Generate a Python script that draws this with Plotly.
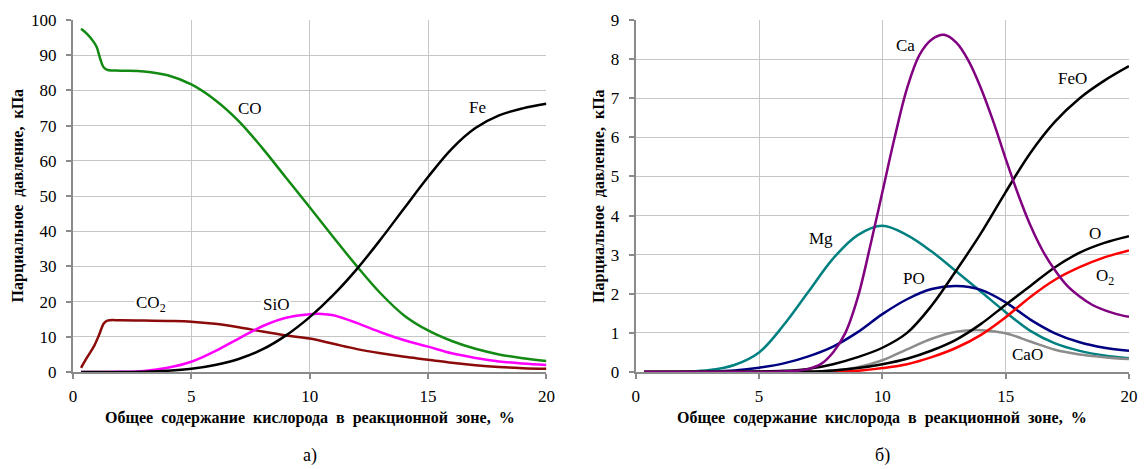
import plotly.graph_objects as go

# ---------- panel a) ----------
co_x = [0.34, 0.6, 0.85, 1.0, 1.15, 1.3, 1.47, 2, 3, 4, 5, 6, 7, 8, 9, 10, 11, 12, 13, 14, 15, 16, 17, 18, 19, 20]
co_y = [97.5, 96.0, 94.0, 92.3, 89.0, 86.5, 85.8, 85.6, 85.4, 84.3, 81.7, 77.3, 71.3, 63.6, 55.2, 46.8, 38.3, 30.0, 22.3, 16.0, 11.8, 8.8, 6.6, 5.0, 3.9, 3.1]

co2_x = [0.34, 0.6, 0.9, 1.1, 1.3, 1.45, 2, 3, 4, 5, 6, 7, 8, 9, 10, 11, 12, 13, 14, 15, 16, 17, 18, 19, 20]
co2_y = [1.2, 4.2, 7.5, 10.5, 13.8, 14.6, 14.7, 14.6, 14.5, 14.3, 13.7, 12.7, 11.5, 10.4, 9.5, 8.0, 6.5, 5.3, 4.3, 3.5, 2.6, 1.9, 1.4, 1.1, 0.9]

sio_x = [0.34, 2, 3, 4, 5, 6, 7, 8, 9, 10, 10.5, 11, 12, 13, 14, 15, 16, 17, 18, 19, 20]
sio_y = [0.0, 0.05, 0.3, 1.2, 2.9, 5.9, 9.5, 13.0, 15.4, 16.4, 16.5, 16.1, 13.9, 11.3, 9.0, 7.2, 5.3, 4.0, 3.0, 2.4, 2.0]

fe_x = [0.34, 2, 3, 4, 5, 6, 7, 8, 9, 10, 11, 12, 13, 14, 15, 16, 17, 18, 19, 20]
fe_y = [0.0, 0.02, 0.1, 0.35, 0.9, 2.0, 3.7, 6.4, 10.4, 15.6, 21.9, 29.3, 37.7, 46.6, 55.4, 63.4, 69.3, 72.9, 74.9, 76.2]

# ---------- panel б) ----------
b_x = [0.34, 2, 3, 4, 5, 6, 7, 8, 9, 10, 11, 12, 13, 14, 15, 16, 17, 18, 19, 20]
mg_y = [0.0, 0.01, 0.05, 0.18, 0.5, 1.2, 2.05, 2.9, 3.5, 3.74, 3.5, 3.08, 2.57, 2.05, 1.53, 1.05, 0.73, 0.54, 0.42, 0.35]
po_y = [0.0, 0.0, 0.01, 0.04, 0.11, 0.22, 0.4, 0.65, 1.02, 1.48, 1.86, 2.12, 2.2, 2.1, 1.78, 1.34, 0.99, 0.76, 0.62, 0.54]
feo_y = [0.0, 0.0, 0.0, 0.0, 0.01, 0.03, 0.08, 0.2, 0.38, 0.62, 1.0, 1.7, 2.6, 3.55, 4.6, 5.6, 6.4, 7.0, 7.45, 7.82]
o_y = [0.0, 0.0, 0.0, 0.0, 0.0, 0.0, 0.01, 0.04, 0.1, 0.2, 0.34, 0.55, 0.83, 1.23, 1.72, 2.2, 2.68, 3.05, 3.3, 3.47]
o2_y = [0.0, 0.0, 0.0, 0.0, 0.0, 0.0, 0.0, 0.0, 0.03, 0.1, 0.2, 0.38, 0.62, 0.95, 1.4, 1.92, 2.36, 2.68, 2.93, 3.11]
cao_y = [0.0, 0.0, 0.0, 0.0, 0.0, 0.0, 0.0, 0.03, 0.12, 0.3, 0.58, 0.85, 1.03, 1.07, 0.99, 0.78, 0.57, 0.45, 0.38, 0.33]

ca_x = [0.34, 4, 5, 6, 6.5, 7, 7.5, 8, 8.5, 9, 9.5, 10, 10.5, 11, 11.5, 12, 12.5, 13, 13.5, 14, 14.5, 15, 15.5, 16, 16.5, 17, 17.5, 18, 18.5, 19, 19.5, 20]
ca_y = [0.0, 0.0, 0.0, 0.01, 0.03, 0.08, 0.2, 0.5, 1.0, 1.9, 3.2, 4.6, 6.0, 7.25, 8.1, 8.5, 8.62, 8.42, 7.95, 7.25, 6.4, 5.45, 4.55, 3.75, 3.1, 2.6, 2.2, 1.93, 1.72, 1.58, 1.48, 1.41]

x_ticks = [0, 5, 10, 15, 20]
y_title = "Парциальное  давление,  кПа"
x_title = "Общее  содержание  кислорода  в  реакционной  зоне,  %"
captions = ["а)", "б)"]

FONT = "Liberation Serif, Times New Roman, serif"
fig = go.Figure()

def add(x, y, color, xa="x", ya="y"):
    fig.add_trace(go.Scatter(x=x, y=y, mode="lines", xaxis=xa, yaxis=ya,
                             line=dict(color=color, width=2.5, shape="spline", smoothing=1.0),
                             showlegend=False, hoverinfo="skip"))

add(co_x, co_y, "#138a13")
add(co2_x, co2_y, "#8b0a0a")
add(sio_x, sio_y, "#ff00ff")
add(fe_x, fe_y, "#000000")

add(b_x, mg_y, "#008080", "x2", "y2")
add(b_x, po_y, "#000080", "x2", "y2")
add(b_x, cao_y, "#8c8c8c", "x2", "y2")
add(b_x, o2_y, "#ff0000", "x2", "y2")
add(b_x, o_y, "#000000", "x2", "y2")
add(b_x, feo_y, "#000000", "x2", "y2")
add(ca_x, ca_y, "#800080", "x2", "y2")

axis_common = dict(showgrid=True, gridcolor="#c6c6c6", gridwidth=1, showline=True,
                   linecolor="#8a8a8a", linewidth=2, ticks="outside", ticklen=5,
                   tickcolor="#8a8a8a", tickwidth=2, zeroline=False,
                   tickfont=dict(family=FONT, size=17, color="#000"))

fig.update_layout(
    width=1145, height=469,
    margin=dict(l=73, r=8, t=20, b=97),
    paper_bgcolor="white", plot_bgcolor="white",
    font=dict(family=FONT),
    xaxis=dict(domain=[0, 0.4483], range=[0, 20], tickvals=x_ticks, anchor="y",
               ticklabelstandoff=3, **axis_common),
    yaxis=dict(range=[0, 100], dtick=10, anchor="x", ticklabelstandoff=6, **axis_common),
    xaxis2=dict(domain=[0.5329, 1], range=[0, 20], tickvals=x_ticks, anchor="y2",
                ticklabelstandoff=3, **axis_common),
    yaxis2=dict(range=[0, 9], dtick=1, anchor="x2", ticklabelstandoff=6, **axis_common),
)

def lab(text, x, y, xr="x", yr="y", bg=None):
    fig.add_annotation(text=text, x=x, y=y, xref=xr, yref=yr, showarrow=False,
                       font=dict(family=FONT, size=17, color="#000"),
                       bgcolor=bg, xanchor="center", yanchor="middle")

lab("CO", 7.49, 74.8)
lab("Fe", 17.07, 75.2)
lab("CO<sub>2</sub>", 3.31, 19.3, bg="white")
lab("SiO", 8.57, 19.3, bg="white")

lab("Ca", 10.93, 8.36, "x2", "y2")
lab("FeO", 17.71, 7.51, "x2", "y2")
lab("Mg", 7.51, 3.41, "x2", "y2")
lab("PO", 11.27, 2.39, "x2", "y2")
lab("O", 18.63, 3.53, "x2", "y2")
lab("O<sub>2</sub>", 19.01, 2.44, "x2", "y2")
lab("CaO", 15.87, 0.45, "x2", "y2")

def paper(text, x, y, size, bold=False, angle=0):
    fig.add_annotation(text=("<b>%s</b>" % text) if bold else text, x=x, y=y,
                       xref="paper", yref="paper", showarrow=False, textangle=angle,
                       font=dict(family=FONT, size=size, color="#000"),
                       xanchor="center", yanchor="middle")

paper(y_title, -0.0517, 0.5, 16, True, -90)
paper(y_title, 0.498, 0.5, 16, True, -90)
paper(x_title, 0.2241, -0.132, 16, True)
paper(x_title, 0.7665, -0.132, 16, True)
paper(captions[0], 0.2241, -0.238, 18)
paper(captions[1], 0.7665, -0.238, 18)

fig.write_html("out.html")
